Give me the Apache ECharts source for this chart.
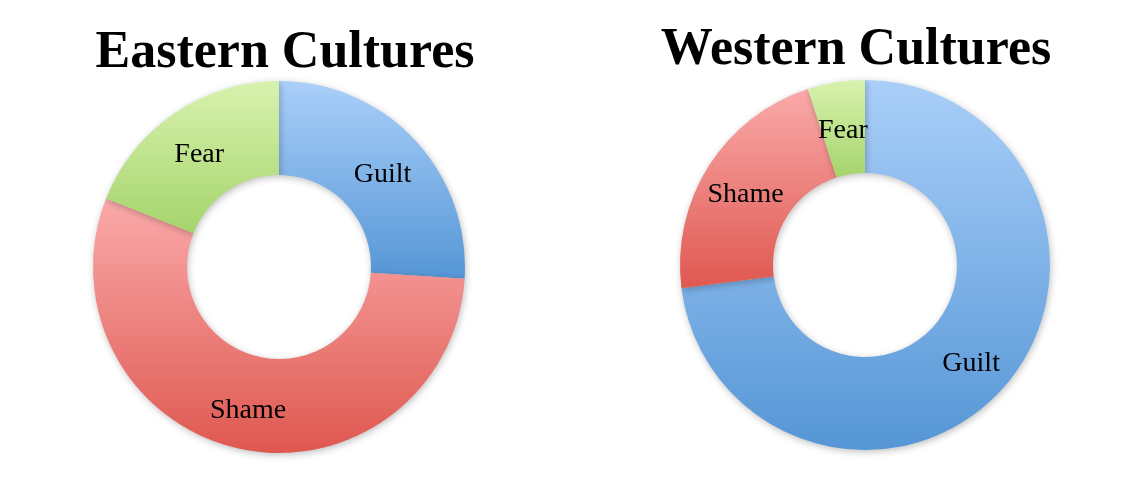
<!DOCTYPE html>
<html><head><meta charset="utf-8">
<script src="https://cdn.jsdelivr.net/npm/echarts@6/dist/echarts.min.js"></script>
<style>html,body{margin:0;padding:0;background:#fff}#c{width:1144px;height:496px}</style>
</head><body><div id="c"></div>
<script>
const categories = ['Guilt', 'Shame', 'Fear'];
const easternValues = [26, 55, 19];
const westernValues = [73, 22, 5];
const chartTitles = ['Eastern Cultures', 'Western Cultures'];

const grad = (a, b) => ({type:'linear', x:0, y:0, x2:0, y2:1, colorStops:[{offset:0,color:a},{offset:1,color:b}]});
const colors = {
  Guilt: grad('#aacff9', '#5596d6'),
  Shame: grad('#faaaaa', '#df5850'),
  Fear: grad('#d8f2ae', '#a5d46c')
};
const mkData = vals => categories.map((c, i) => ({name:c, value:vals[i], itemStyle:{color:colors[c]}}));

const labelStyle = {show:true, position:'inside', formatter:'{b}', color:'#000', fontFamily:'Liberation Serif', fontSize:28, textBorderWidth:0, offset:[0,5]};
const common = {
  type:'pie', startAngle:90, clockwise:true, silent:true, animation:false,
  label: labelStyle, labelLine:{show:false},
  itemStyle:{borderWidth:0, shadowBlur:7, shadowColor:'rgba(0,0,0,0.25)', shadowOffsetY:2, shadowOffsetX:1}
};

const chart = echarts.init(document.getElementById('c'), null, {renderer:'canvas'});
chart.setOption({
  backgroundColor:'#fff',
  title:[
    {text:chartTitles[0], left:280, top:23, textAlign:'center', textStyle:{fontFamily:'Liberation Serif', fontWeight:'bold', fontSize:52, color:'#000'}},
    {text:chartTitles[1], left:851, top:20, textAlign:'center', textStyle:{fontFamily:'Liberation Serif', fontWeight:'bold', fontSize:52, color:'#000'}}
  ],
  series:[
    Object.assign({}, common, {center:[279,267], radius:[92,186], data:mkData(easternValues)}),
    Object.assign({}, common, {center:[865,265], radius:[92,185], data:mkData(westernValues)})
  ]
});
</script></body></html>
